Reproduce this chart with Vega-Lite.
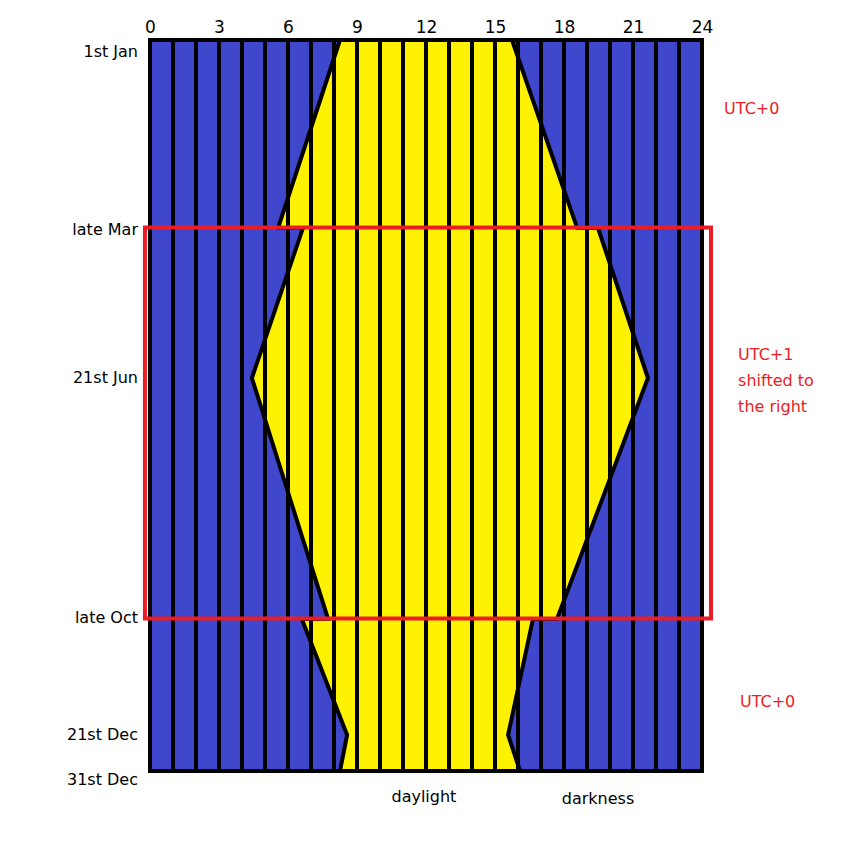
{
  "$schema": "https://vega.github.io/schema/vega-lite/v6.json",
  "width": 552,
  "height": 731,
  "autosize": "none",
  "padding": {"left": 150, "top": 40, "right": 154, "bottom": 72},
  "config": {"view": {"fill": "#3f48cc", "stroke": null}, "font": "DejaVu Sans"},
  "datasets": {
    "daylight": [
      {"day": 0, "rise": 8.26, "set": 15.74},
      {"day": 93.8, "rise": 5.57, "set": 18.57},
      {"day": 93.9, "rise": 6.65, "set": 19.48},
      {"day": 168.8, "rise": 4.43, "set": 21.65},
      {"day": 289, "rise": 7.74, "set": 17.7},
      {"day": 289.1, "rise": 6.6, "set": 16.65},
      {"day": 347, "rise": 8.57, "set": 15.57},
      {"day": 365, "rise": 8.26, "set": 16.09}
    ],
    "hours": [
      {"hour": 1}, {"hour": 2}, {"hour": 3}, {"hour": 4}, {"hour": 5}, {"hour": 6},
      {"hour": 7}, {"hour": 8}, {"hour": 9}, {"hour": 10}, {"hour": 11}, {"hour": 12},
      {"hour": 13}, {"hour": 14}, {"hour": 15}, {"hour": 16}, {"hour": 17}, {"hour": 18},
      {"hour": 19}, {"hour": 20}, {"hour": 21}, {"hour": 22}, {"hour": 23}
    ],
    "dates": [
      {"label": "1st Jan", "day": 6},
      {"label": "late Mar", "day": 94.9},
      {"label": "21st Jun", "day": 168.8},
      {"label": "late Oct", "day": 288.6},
      {"label": "21st Dec", "day": 347},
      {"label": "31st Dec", "day": 369.5}
    ],
    "notes": [
      {"note": "UTC+0", "hour": 24.96, "day": 34.5},
      {"note": "UTC+1\nshifted to\nthe right", "hour": 25.57, "day": 157.3},
      {"note": "UTC+0", "hour": 25.65, "day": 330.6}
    ],
    "bottom": [
      {"text": "daylight", "hour": 11.91, "day": 378},
      {"text": "darkness", "hour": 19.48, "day": 379}
    ]
  },
  "layer": [
    {
      "data": {"name": "daylight"},
      "mark": {"type": "area", "orient": "horizontal", "color": "#fff200"},
      "encoding": {
        "y": {"field": "day", "type": "quantitative", "scale": {"domain": [0, 365], "reverse": true, "nice": false, "zero": false}, "axis": null},
        "x": {"field": "rise", "type": "quantitative", "scale": {"domain": [0, 24], "nice": false, "zero": false},
          "axis": {"orient": "top", "values": [0, 3, 6, 9, 12, 15, 18, 21, 24], "ticks": false, "domain": false, "grid": false,
            "labelFontSize": 17, "labelColor": "black", "labelPadding": 4, "labelFlush": false, "title": null, "labelFont": "DejaVu Sans"}},
        "x2": {"field": "set"}
      }
    },
    {
      "data": {"name": "hours"},
      "mark": {"type": "rule", "color": "black", "strokeWidth": 4},
      "encoding": {"x": {"field": "hour", "type": "quantitative"}}
    },
    {
      "data": {"name": "daylight"},
      "mark": {"type": "line", "color": "black", "strokeWidth": 4},
      "encoding": {
        "x": {"field": "rise", "type": "quantitative"},
        "y": {"field": "day", "type": "quantitative"},
        "order": {"field": "day"}
      }
    },
    {
      "data": {"name": "daylight"},
      "mark": {"type": "line", "color": "black", "strokeWidth": 4},
      "encoding": {
        "x": {"field": "set", "type": "quantitative"},
        "y": {"field": "day", "type": "quantitative"},
        "order": {"field": "day"}
      }
    },
    {
      "data": {"values": [{}]},
      "mark": {"type": "rect", "fillOpacity": 0, "stroke": "black", "strokeWidth": 4},
      "encoding": {
        "x": {"datum": 0, "type": "quantitative"},
        "x2": {"datum": 24},
        "y": {"datum": 0, "type": "quantitative"},
        "y2": {"datum": 365}
      }
    },
    {
      "data": {"values": [{}]},
      "mark": {"type": "rect", "fillOpacity": 0, "stroke": "#ed1c24", "strokeWidth": 4},
      "encoding": {
        "x": {"datum": -0.22, "type": "quantitative"},
        "x2": {"datum": 24.39},
        "y": {"datum": 93.6, "type": "quantitative"},
        "y2": {"datum": 288.9}
      }
    },
    {
      "data": {"name": "dates"},
      "mark": {"type": "text", "align": "right", "baseline": "middle", "dx": -12, "fontSize": 16, "color": "black"},
      "encoding": {
        "x": {"datum": 0, "type": "quantitative"},
        "y": {"field": "day", "type": "quantitative"},
        "text": {"field": "label"}
      }
    },
    {
      "data": {"name": "notes"},
      "mark": {"type": "text", "align": "left", "baseline": "middle", "fontSize": 16, "color": "#ed1c24", "lineBreak": "\n", "lineHeight": 26},
      "encoding": {
        "x": {"field": "hour", "type": "quantitative"},
        "y": {"field": "day", "type": "quantitative"},
        "text": {"field": "note"}
      }
    },
    {
      "data": {"name": "bottom"},
      "mark": {"type": "text", "align": "center", "baseline": "middle", "fontSize": 16, "color": "black"},
      "encoding": {
        "x": {"field": "hour", "type": "quantitative"},
        "y": {"field": "day", "type": "quantitative"},
        "text": {"field": "text"}
      }
    }
  ]
}
